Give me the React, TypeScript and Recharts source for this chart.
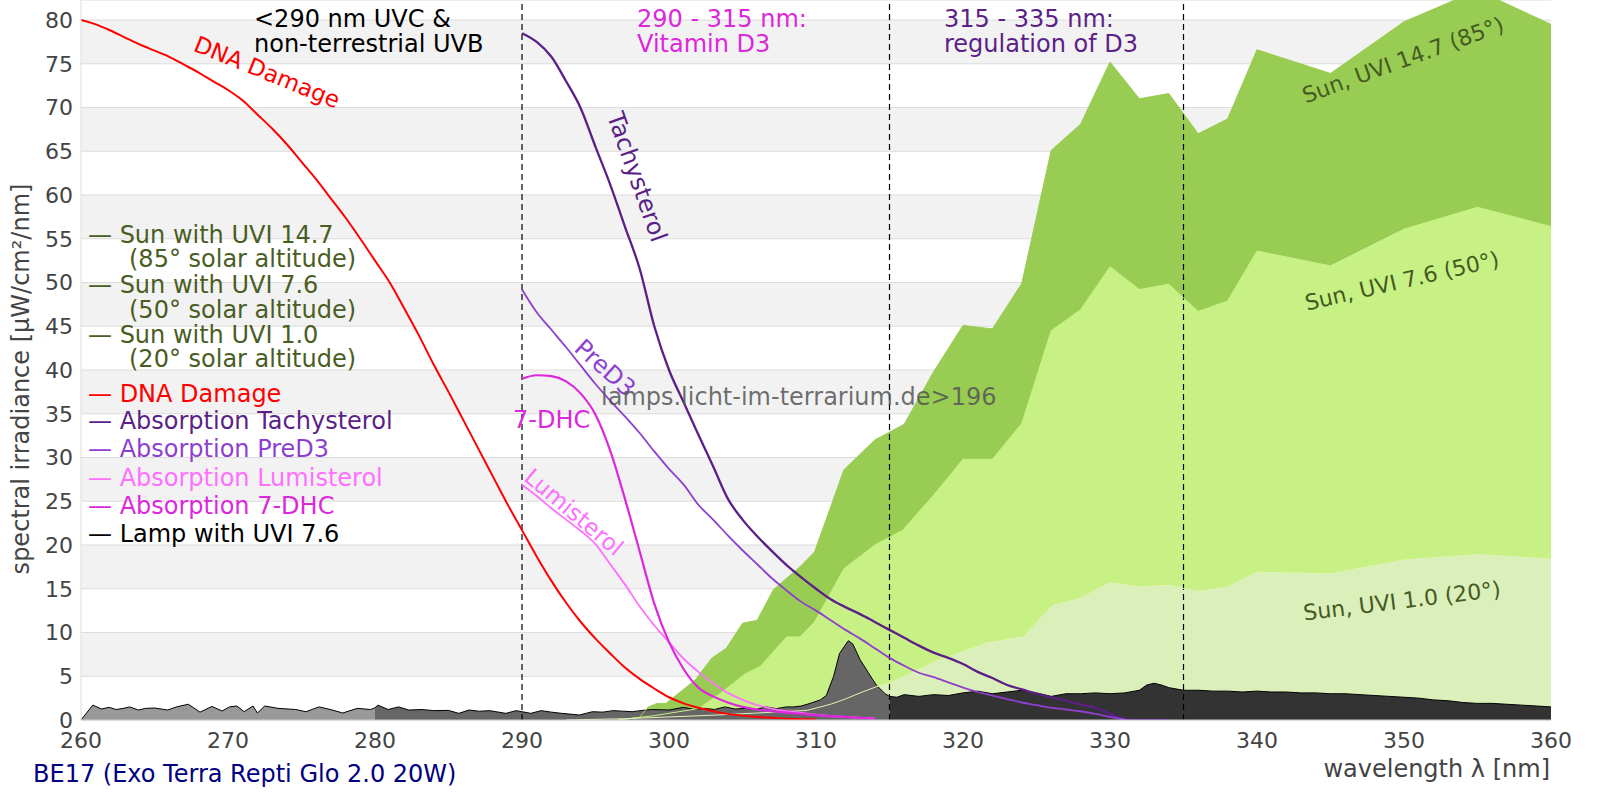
import { ComposedChart, Area, Line, XAxis, YAxis, CartesianGrid, ReferenceLine } from "recharts";

const FONT = "'DejaVu Sans', sans-serif";

// axis ticks
const xTicks = [260, 270, 280, 290, 300, 310, 320, 330, 340, 350, 360];
const yTicks = [0, 5, 10, 15, 20, 25, 30, 35, 40, 45, 50, 55, 60, 65, 70, 75, 80];
const regionEdges = [290, 315, 335];

// sun spectra (µW/cm²/nm)
const sun147Nm = [296.5, 298, 298.6, 299.2, 299.8, 301.8, 302.9, 303.9, 305, 306, 307.1, 308.9, 309.9, 311.9, 314, 316, 318, 320, 322, 324, 326, 328, 330, 332, 334, 336, 338, 340, 345, 350, 355, 360];
const sun147 = [0, 0.3, 1.5, 1.9, 1.9, 4.6, 7.05, 8.2, 11.05, 11.4, 14.9, 17.5, 19.2, 28.6, 32.0, 33.8, 39.8, 45.1, 44.7, 49.9, 65.1, 68.1, 75.2, 71.0, 71.6, 67.0, 68.7, 76.6, 73.9, 79.8, 83.4, 79.5];

const sun76Nm = [296.5, 299, 302, 303.5, 305.2, 306.2, 308, 308.9, 309.9, 311.9, 314, 315.9, 318, 320, 322, 324, 326, 328, 330, 332, 334, 336, 338, 340, 345, 350, 355, 360];
const sun76 = [0, 0.5, 1.3, 3.05, 5.3, 6.1, 9.5, 9.5, 11.2, 17.3, 20.0, 21.7, 25.7, 29.8, 29.8, 33.9, 44.5, 46.9, 51.8, 49.2, 49.8, 46.7, 47.9, 53.6, 51.9, 56.1, 58.6, 56.4];

const sun10Nm = [293, 297, 300, 303, 306, 309.4, 311, 312, 313, 314.1, 315, 316, 318.4, 320, 321.6, 324.1, 326.1, 328, 330, 332, 334, 336, 338, 340, 345, 350, 355, 360];
const sun10 = [0, 0.15, 0.35, 0.55, 0.8, 1.1, 1.8, 2.4, 3.1, 3.8, 4.2, 5.0, 6.9, 7.8, 8.8, 9.5, 13.1, 13.9, 15.7, 15.2, 15.4, 14.7, 15.2, 16.9, 16.7, 18.3, 18.9, 18.4];

// lamp spectrum
const lampNm = [260, 260.8, 261.4, 261.9, 262.4, 262.9, 263.3, 263.9, 264.4, 265, 265.9, 266.5, 267.3, 268.1, 268.9, 269.6, 270.1, 270.6, 271.1, 271.7, 272, 272.5, 273.4, 274.6, 275.3, 276.2, 277.1, 277.8, 278.8, 279.7, 280, 280.2, 280.9, 281.6, 282.3, 283.2, 284, 285, 285.7, 286.4, 287.1, 287.8, 288.9, 289.6, 290.6, 291.3, 292, 292.7, 293.9, 294.8, 295.5, 296.2, 297.5, 298.2, 298.9, 300, 301, 301.7, 302.4, 303.1, 303.8, 304.5, 305.2, 305.9, 306.6, 307.3, 308, 308.5, 309, 309.6, 310.3, 310.7, 311.2, 311.6, 312.2, 312.5, 313, 313.6, 314.1, 314.7, 315, 315.5, 316, 317, 318, 319, 320, 321, 322, 323, 324, 325, 326, 327, 328, 329, 330, 331, 332, 332.5, 333, 333.5, 334, 335, 336, 337, 338, 339, 340, 341, 342, 343, 344, 345, 346, 347, 348, 349, 350, 351, 352, 353, 354, 355, 356, 357, 358, 359, 360];
const lamp = [0, 1.7, 1.26, 1.45, 1.2, 1.33, 1.5, 1.14, 1.33, 1.37, 1.14, 1.5, 1.8, 0.9, 1.55, 1.03, 1.5, 1.6, 0.95, 1.6, 0.8, 1.6, 1.33, 1.2, 0.95, 1.5, 1.14, 0.8, 1.33, 1.2, 1.4, 1.7, 1.2, 1.5, 1.14, 1.2, 1.07, 1.1, 0.76, 1.14, 1.0, 1.07, 0.76, 1.07, 0.76, 1.07, 0.9, 0.76, 0.57, 0.95, 0.9, 1.07, 0.95, 1.1, 1.2, 1.14, 1.45, 1.2, 1.33, 1.2, 1.5, 1.25, 1.33, 1.2, 1.5, 1.3, 1.5, 1.5, 1.6, 1.9, 2.3, 2.8, 5.0, 7.6, 9.06, 8.7, 6.9, 5.3, 4.0, 3.0, 2.7, 2.6, 2.9, 2.7, 2.9, 2.8, 3.1, 3.3, 3.0, 3.2, 3.4, 3.1, 2.7, 3.0, 3.0, 3.1, 3.0, 3.1, 3.4, 4.0, 4.2, 4.0, 3.7, 3.4, 3.4, 3.3, 3.3, 3.2, 3.3, 3.2, 3.2, 3.1, 3.1, 3.0, 3.0, 2.9, 2.8, 2.7, 2.6, 2.5, 2.3, 2.2, 2.0, 1.9, 1.9, 1.8, 1.7, 1.6, 1.5];

// action / absorption spectra
const dnaNm = [260, 261, 262, 263, 264, 265, 266, 267, 268, 269, 270, 271, 272, 273, 274, 275, 276, 277, 278, 279, 280, 281, 282, 283, 284, 285, 286, 287, 288, 289, 290, 291, 292, 293, 294, 295, 296, 297, 298, 299, 300, 301, 302, 303, 304, 305, 306, 307, 308, 309, 310];
const dnaDamage = [80, 79.5, 78.8, 78.0, 77.2, 76.5, 75.8, 74.9, 74.0, 73.0, 72.0, 70.8, 69.2, 67.6, 65.8, 63.8, 61.8, 59.6, 57.4, 55.0, 52.5, 50.0, 47.0, 43.9, 40.6, 37.5, 34.3, 31.1, 27.9, 24.7, 21.7, 18.7, 15.9, 13.4, 11.2, 9.3, 7.6, 6.0, 4.7, 3.6, 2.6, 1.9, 1.4, 1.0, 0.7, 0.5, 0.35, 0.25, 0.15, 0.1, 0.05];

const tachyNm = [290, 291, 292, 293, 294, 295, 296, 297, 298, 299, 300, 301, 302, 303, 304, 305, 306, 307, 308, 309, 310, 311, 312, 313, 314, 315, 316, 317, 318, 319, 320, 321, 322, 323, 324, 325, 326, 327, 328, 329, 330, 331, 332, 333, 334];
const tachysterol = [78.5, 77.5, 75.8, 73.0, 69.9, 65.5, 61.2, 56.4, 51.6, 45.0, 40.0, 36.3, 32.6, 29.0, 25.3, 22.9, 21.0, 19.3, 17.7, 16.3, 15.0, 13.8, 12.9, 12.1, 11.2, 10.3, 9.4, 8.5, 7.7, 7.1, 6.4, 5.5, 4.8, 4.0, 3.5, 3.0, 2.6, 2.2, 1.8, 1.4, 0.7, 0.1, 0, 0, 0];

const preD3Nm = [290, 291, 292, 293, 294, 295, 296, 297, 298, 299, 300, 301, 302, 303, 304, 305, 306, 307, 308, 309, 310, 311, 312, 313, 314, 315, 316, 317, 318, 319, 320, 321, 322, 323, 324, 325, 326, 327, 328, 329, 330, 331];
const preD3 = [49.2, 46.6, 44.6, 42.6, 40.5, 38.4, 36.5, 34.7, 32.8, 30.7, 28.7, 26.9, 24.6, 22.9, 21.1, 19.4, 17.8, 16.2, 14.8, 13.5, 12.5, 11.4, 10.3, 9.3, 8.2, 7.1, 6.2, 5.4, 4.9, 4.3, 3.7, 3.2, 2.8, 2.4, 2.0, 1.7, 1.4, 1.2, 1.0, 0.7, 0.35, 0.05];

const shortNm = [290, 291, 292, 293, 294, 295, 296, 297, 298, 299, 300, 301, 302, 303, 304, 305, 306, 307, 308, 309, 310, 311, 312, 313, 314];
const lumisterol = [26.9, 25.6, 24.2, 22.9, 21.6, 20.1, 17.8, 15.5, 13.0, 10.8, 8.9, 7.0, 5.5, 4.2, 3.1, 2.3, 1.7, 1.3, 1.0, 0.8, 0.6, 0.45, 0.35, 0.25, 0.2];
const dhc7 = [39.0, 39.4, 39.3, 38.7, 37.3, 34.9, 30.8, 25.3, 19.3, 13.3, 8.9, 5.8, 3.7, 2.7, 2.0, 1.5, 1.2, 1.0, 0.85, 0.7, 0.55, 0.45, 0.35, 0.25, 0.15];

const pts = (nm: number[], vals: number[]) => nm.map((x, i) => ({ x, y: vals[i] }));

const lampPts = pts(lampNm, lamp);
const lampUvc = lampPts.filter((p) => p.x <= 280);
const lampUvb = lampPts.filter((p) => p.x >= 280 && p.x <= 315);
const lampUva = lampPts.filter((p) => p.x >= 315);

const C = {
  sunText: "#4a5d23",
  sunLabel: "#455a22",
  dna: "#ff0000",
  tachy: "#5b1f87",
  preD3: "#8e3fcf",
  lumi: "#ff70ff",
  dhc: "#dc28dc",
  sun147: "#99cc52",
  sun76: "#c7f184",
  sun10: "#daefb9",
};

const legend = [
  { t: "— Sun with UVI 14.7", x: 88, y: 243, c: C.sunText },
  { t: "(85° solar altitude)", x: 129, y: 267, c: C.sunText },
  { t: "— Sun with UVI 7.6", x: 88, y: 293, c: C.sunText },
  { t: "(50° solar altitude)", x: 129, y: 318, c: C.sunText },
  { t: "— Sun with UVI 1.0", x: 88, y: 343, c: C.sunText },
  { t: "(20° solar altitude)", x: 129, y: 367, c: C.sunText },
  { t: "— DNA Damage", x: 88, y: 402, c: C.dna },
  { t: "— Absorption Tachysterol", x: 88, y: 429, c: C.tachy },
  { t: "— Absorption PreD3", x: 88, y: 457, c: C.preD3 },
  { t: "— Absorption Lumisterol", x: 88, y: 486, c: C.lumi },
  { t: "— Absorption 7-DHC", x: 88, y: 514, c: C.dhc },
  { t: "— Lamp with UVI 7.6", x: 88, y: 542, c: "#000" },
];

const curveLabels = [
  { t: "DNA Damage", x: 267, y: 72, r: 22, c: C.dna, s: 23 },
  { t: "Tachysterol", x: 637, y: 177, r: 70.5, c: C.tachy, s: 24 },
  { t: "PreD3", x: 605, y: 368, r: 42, c: C.preD3, s: 24 },
  { t: "Lumisterol", x: 574, y: 512, r: 40, c: C.lumi, s: 23 },
  { t: "Sun, UVI 14.7 (85°)", x: 1403, y: 60, r: -20, c: C.sunLabel, s: 22 },
  { t: "Sun, UVI 7.6 (50°)", x: 1402, y: 281, r: -13, c: C.sunLabel, s: 22 },
  { t: "Sun, UVI 1.0 (20°)", x: 1402, y: 601, r: -7, c: C.sunLabel, s: 22 },
];

export default function App() {
  const tick = { fill: "#444", fontSize: 22, fontFamily: FONT };
  return (
    <div style={{ position: "absolute", left: 0, top: 0, width: 1600, height: 800, background: "#fff" }}>
      <ComposedChart width={1600} height={800} margin={{ top: 0, right: 49, bottom: 0, left: 0 }}>
        <CartesianGrid vertical={false} stroke="#dcdcdc" horizontalFill={["#ffffff", "#f2f2f2"]} fillOpacity={1} />
        <XAxis
          type="number"
          dataKey="x"
          domain={[260, 360]}
          ticks={xTicks}
          allowDataOverflow
          height={80}
          tick={tick}
          tickLine={false}
          tickMargin={6}
          axisLine={{ stroke: "#cccccc" }}
        />
        <YAxis
          type="number"
          domain={[0, 82.29]}
          ticks={yTicks}
          allowDataOverflow
          width={81}
          tick={tick}
          tickLine={false}
          axisLine={{ stroke: "#dddddd" }}
        />
        <Area data={pts(sun147Nm, sun147)} dataKey="y" type="linear" fill={C.sun147} fillOpacity={1} stroke="none" isAnimationActive={false} />
        <Area data={pts(sun76Nm, sun76)} dataKey="y" type="linear" fill={C.sun76} fillOpacity={1} stroke="none" isAnimationActive={false} />
        <Area data={pts(sun10Nm, sun10)} dataKey="y" type="linear" fill={C.sun10} fillOpacity={1} stroke="none" isAnimationActive={false} />
        {regionEdges.map((x) => (
          <ReferenceLine key={x} x={x} stroke="#000" strokeDasharray="6 4" strokeWidth={1.2} />
        ))}
        <Area data={lampUvc} dataKey="y" type="linear" fill="#999999" fillOpacity={1} stroke="#000" strokeWidth={1} isAnimationActive={false} />
        <Area data={lampUvb} dataKey="y" type="linear" fill="#666666" fillOpacity={1} stroke="#000" strokeWidth={1} isAnimationActive={false} />
        <Area data={lampUva} dataKey="y" type="linear" fill="#333333" fillOpacity={1} stroke="#000" strokeWidth={1} isAnimationActive={false} />
        <Line data={pts(sun147Nm, sun147)} dataKey="y" type="linear" stroke={C.sun147} strokeWidth={1} dot={false} activeDot={false} isAnimationActive={false} />
        <Line data={pts(sun76Nm, sun76)} dataKey="y" type="linear" stroke={C.sun76} strokeWidth={1} dot={false} activeDot={false} isAnimationActive={false} />
        <Line data={pts(sun10Nm, sun10)} dataKey="y" type="linear" stroke="#e4f2b8" strokeWidth={1} dot={false} activeDot={false} isAnimationActive={false} />
        <Line data={pts(tachyNm, tachysterol)} dataKey="y" type="monotone" stroke={C.tachy} strokeWidth={2.3} dot={false} activeDot={false} isAnimationActive={false} />
        <Line data={pts(preD3Nm, preD3)} dataKey="y" type="monotone" stroke={C.preD3} strokeWidth={1.8} dot={false} activeDot={false} isAnimationActive={false} />
        <Line data={pts(shortNm, lumisterol)} dataKey="y" type="monotone" stroke={C.lumi} strokeWidth={1.8} dot={false} activeDot={false} isAnimationActive={false} />
        <Line data={pts(shortNm, dhc7)} dataKey="y" type="monotone" stroke={C.dhc} strokeWidth={2.2} dot={false} activeDot={false} isAnimationActive={false} />
        <Line data={pts(dnaNm, dnaDamage)} dataKey="y" type="monotone" stroke={C.dna} strokeWidth={2} dot={false} activeDot={false} isAnimationActive={false} />
      </ComposedChart>
      <svg
        width={1600}
        height={800}
        style={{ position: "absolute", left: 0, top: 0, pointerEvents: "none" }}
        fontFamily={FONT}
        fontSize={24}
      >
        <text x={254} y={27} fill="#000">&lt;290 nm UVC &amp;</text>
        <text x={254} y={52} fill="#000">non-terrestrial UVB</text>
        <text x={637} y={27} fill={C.dhc}>290 - 315 nm:</text>
        <text x={637} y={52} fill={C.dhc}>Vitamin D3</text>
        <text x={944} y={27} fill={C.tachy}>315 - 335 nm:</text>
        <text x={944} y={52} fill={C.tachy}>regulation of D3</text>
        {legend.map((l) => (
          <text key={l.t} x={l.x} y={l.y} fill={l.c}>{l.t}</text>
        ))}
        {curveLabels.map((l) => (
          <text
            key={l.t}
            x={l.x}
            y={l.y}
            fill={l.c}
            fontSize={l.s}
            textAnchor="middle"
            dominantBaseline="central"
            transform={`rotate(${l.r} ${l.x} ${l.y})`}
          >
            {l.t}
          </text>
        ))}
        <text x={513} y={428} fill={C.dhc}>7-DHC</text>
        <text x={601} y={405} fill="#555" fillOpacity={0.85}>lamps.licht-im-terrarium.de&gt;196</text>
        <text x={29} y={379} fill="#444" textAnchor="middle" transform="rotate(-90 29 379)">
          spectral irradiance [µW/cm²/nm]
        </text>
        <text x={1550} y={777} fill="#444" textAnchor="end">wavelength λ [nm]</text>
        <text x={33} y={782} fill="#000080">BE17 (Exo Terra Repti Glo 2.0 20W)</text>
      </svg>
    </div>
  );
}
